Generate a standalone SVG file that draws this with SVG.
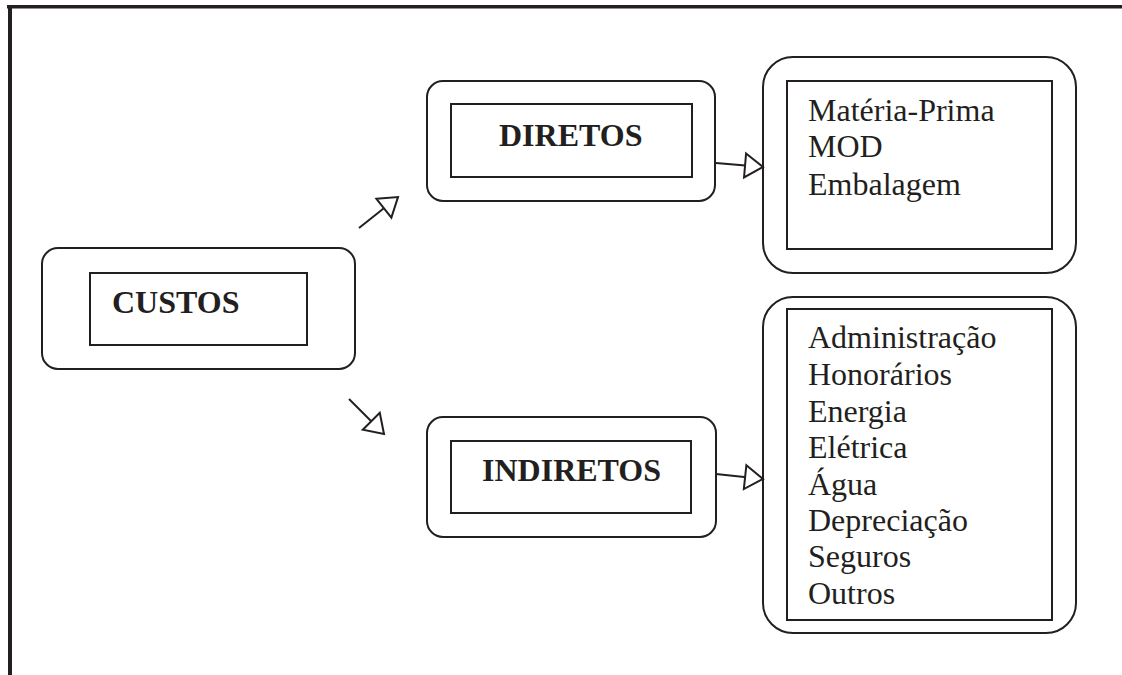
<svg xmlns="http://www.w3.org/2000/svg" width="1122" height="675" viewBox="0 0 1122 675">
  <style>
    .outer { fill: #ffffff; stroke: #231f20; stroke-width: 2; }
    .inner { fill: #ffffff; stroke: #231f20; stroke-width: 2; }
    .title { font-family: "Liberation Serif", "Times New Roman", serif; font-size: 32px; font-weight: bold; fill: #231f20; }
    .item { font-family: "Liberation Serif", "Times New Roman", serif; font-size: 32px; fill: #231f20; }
    .conn { stroke: #231f20; stroke-width: 2; fill: none; marker-end: url(#hollow); }
    .frame { stroke: #231f20; fill: none; }
  </style>
  <defs>
    <marker id="hollow" markerUnits="userSpaceOnUse" viewBox="0 0 18 24" refX="18" refY="12" markerWidth="18" markerHeight="24" orient="auto" overflow="visible">
      <path d="M0,0 L18,12 L0,24 Z" fill="#ffffff" stroke="#231f20" stroke-width="2" stroke-linejoin="miter"/>
    </marker>
  </defs>
  <rect width="1122" height="675" fill="#ffffff"/>
  <g id="frame">
    <line class="frame" x1="7" y1="6.7" x2="1122" y2="6.7" stroke-width="3.4"/>
    <line class="frame" x1="10" y1="5" x2="10" y2="675" stroke-width="4"/>
  </g>
  <g id="custos">
    <rect class="outer" x="42" y="248" width="313" height="121" rx="16"/>
    <rect class="inner" x="90" y="273" width="217" height="72"/>
    <text class="title" x="112" y="313">CUSTOS</text>
  </g>
  <g id="diretos">
    <rect class="outer" x="427" y="81" width="288" height="120" rx="16"/>
    <rect class="inner" x="451" y="104" width="241" height="73"/>
    <text class="title" x="499" y="146">DIRETOS</text>
  </g>
  <g id="indiretos">
    <rect class="outer" x="427" y="417" width="289" height="120" rx="16"/>
    <rect class="inner" x="451" y="441" width="240" height="72"/>
    <text class="title" x="482" y="481">INDIRETOS</text>
  </g>
  <g id="lista-diretos">
    <rect class="outer" x="763" y="57" width="313" height="216" rx="30"/>
    <rect class="inner" x="787" y="81" width="265" height="168"/>
    <text class="item" x="808" y="121">Matéria-Prima</text>
    <text class="item" x="808" y="157">MOD</text>
    <text class="item" x="808" y="195">Embalagem</text>
  </g>
  <g id="lista-indiretos">
    <rect class="outer" x="763" y="297" width="313" height="336" rx="30"/>
    <rect class="inner" x="787" y="309" width="265" height="311"/>
    <text class="item" x="808" y="348">Administração</text>
    <text class="item" x="808" y="385">Honorários</text>
    <text class="item" x="808" y="422">Energia</text>
    <text class="item" x="808" y="458">Elétrica</text>
    <text class="item" x="808" y="495">Água</text>
    <text class="item" x="808" y="531">Depreciação</text>
    <text class="item" x="808" y="567">Seguros</text>
    <text class="item" x="808" y="604">Outros</text>
  </g>
  <g id="connectors">
    <line class="conn" x1="359" y1="228" x2="398" y2="197"/>
    <line class="conn" x1="349" y1="399" x2="384" y2="434"/>
    <line class="conn" x1="716" y1="163" x2="763" y2="167"/>
    <line class="conn" x1="716" y1="474" x2="763" y2="479"/>
  </g>
</svg>
